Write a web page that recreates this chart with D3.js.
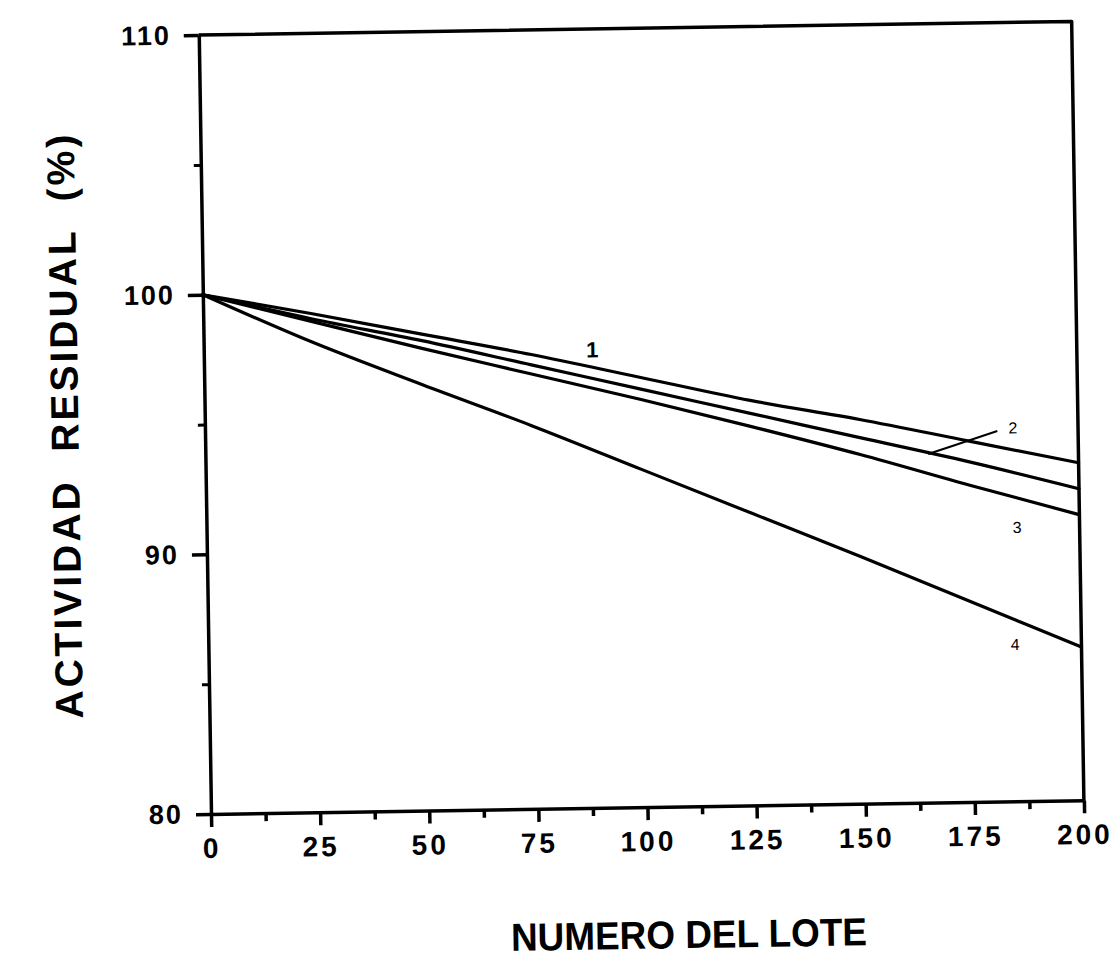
<!DOCTYPE html>
<html>
<head>
<meta charset="utf-8">
<script src="https://cdn.jsdelivr.net/npm/d3@7"></script>
<style>
  html, body { margin: 0; padding: 0; background: #fff; }
  svg { display: block; }
  .tick text { font-family: "Liberation Sans", Arial, sans-serif; font-weight: bold; fill: #000; }
</style>
</head>
<body>
<svg id="chart" width="1118" height="961"></svg>
<script>
// ---- data ----
const lotes   = [0, 25, 50, 75, 100, 125, 150, 175, 200];
const serie1  = [100, 99.2, 98.35, 97.5, 96.55, 95.6, 94.8, 93.9, 93.0];
const serie2  = [100, 99.0, 98.1, 97.1, 96.1, 95.1, 94.1, 93.1, 92.0];
const serie3  = [100, 98.9, 97.8, 96.75, 95.7, 94.6, 93.45, 92.2, 91.0];
const serie4  = [100, 98.1, 96.4, 94.75, 93.0, 91.25, 89.5, 87.7, 85.9];
const seriesNames = ["1", "2", "3", "4"];
const labelX  = [89, 185.1, 185.7, 184.8];
const labelY  = [97.64, 94.38, 90.55, 86.04];
const leaderX = [165.6, 181.5];
const leaderY = [93.43, 94.27];
const xTicks  = [0, 25, 50, 75, 100, 125, 150, 175, 200];
const xMinor  = [12.5, 37.5, 62.5, 87.5, 112.5, 137.5, 162.5, 187.5];
const yTicks  = [80, 90, 100, 110];
const yMinor  = [85, 95, 105];
const xTitle  = "NUMERO DEL LOTE";
const yTitle  = "ACTIVIDAD  RESIDUAL  (%)";

// ---- layout ----
const originX = 211, originY = 814, W = 873, H = 779;
const svg = d3.select("#chart");
const root = svg.append("g").attr("transform", `rotate(-0.9, ${originX}, ${originY})`);
const g = root.append("g").attr("transform", `translate(${originX},${originY - H})`);

const x = d3.scaleLinear().domain([0, 200]).range([0, W]);
const y = d3.scaleLinear().domain([80, 110]).range([H, 0]);

// frame (top & right)
g.append("path")
  .attr("d", `M0,0 H${W} V${H}`)
  .attr("fill", "none").attr("stroke", "#000").attr("stroke-width", 3.5)
  .attr("stroke-linejoin", "round");

// minor ticks
g.append("g").attr("transform", `translate(0,${H})`)
  .call(d3.axisBottom(x).tickValues(xMinor).tickSize(8).tickSizeOuter(0).tickFormat(""))
  .call(s => s.select(".domain").remove())
  .selectAll("line").attr("stroke-width", 3.5);
g.append("g")
  .call(d3.axisLeft(y).tickValues(yMinor).tickSize(7).tickSizeOuter(0).tickFormat(""))
  .call(s => s.select(".domain").remove())
  .selectAll("line").attr("stroke-width", 3);

// major axes
const xa = g.append("g").attr("transform", `translate(0,${H})`)
  .call(d3.axisBottom(x).tickValues(xTicks).tickSize(13).tickSizeOuter(0).tickPadding(11).tickFormat(d3.format("d")));
xa.select(".domain").attr("stroke-width", 3.5);
xa.selectAll("line").attr("stroke-width", 3.5);
xa.selectAll("text").attr("font-size", 28).attr("letter-spacing", 3);

const ya = g.append("g")
  .call(d3.axisLeft(y).tickValues(yTicks).tickSize(15).tickSizeOuter(0).tickPadding(13).tickFormat(d3.format("d")));
ya.select(".domain").attr("stroke-width", 3.5);
ya.selectAll("line").attr("stroke-width", 3.5);
ya.selectAll("text").attr("font-size", 27).attr("letter-spacing", 2);

// curves
const allSeries = [serie1, serie2, serie3, serie4];
const line = d3.line().x((d, i) => x(lotes[i])).y(d => y(d)).curve(d3.curveMonotoneX);
g.selectAll(".curve").data(allSeries).enter().append("path")
  .attr("class", "curve")
  .attr("d", line)
  .attr("fill", "none").attr("stroke", "#000").attr("stroke-width", 3.2)
  .attr("stroke-linecap", "round");

// leader line for "2"
g.append("line")
  .attr("x1", x(leaderX[0])).attr("y1", y(leaderY[0]))
  .attr("x2", x(leaderX[1])).attr("y2", y(leaderY[1]))
  .attr("stroke", "#000").attr("stroke-width", 2);

// series labels
g.selectAll(".slabel").data(seriesNames).enter().append("text")
  .attr("class", "slabel")
  .attr("x", (d, i) => x(labelX[i])).attr("y", (d, i) => y(labelY[i]))
  .attr("text-anchor", "middle").attr("dominant-baseline", "central")
  .attr("font-family", "'Liberation Sans', Arial, sans-serif")
  .attr("font-weight", (d, i) => i === 0 ? "bold" : "normal")
  .attr("font-size", (d, i) => i === 0 ? 22 : 16)
  .text(d => d);

// axis titles
g.append("text")
  .attr("x", 476).attr("y", 907)
  .attr("text-anchor", "middle").attr("dominant-baseline", "central")
  .attr("font-family", "'Liberation Sans', Arial, sans-serif")
  .attr("font-weight", "bold").attr("font-size", 39)
  .attr("textLength", 356).attr("lengthAdjust", "spacingAndGlyphs")
  .text(xTitle);

g.append("text")
  .attr("transform", `translate(-140,388) rotate(-90)`)
  .attr("text-anchor", "middle").attr("dominant-baseline", "central")
  .attr("font-family", "'Liberation Sans', Arial, sans-serif")
  .attr("font-weight", "bold").attr("font-size", 39).attr("letter-spacing", 3)
  .style("white-space", "pre")
  .text(yTitle);
</script>
</body>
</html>
